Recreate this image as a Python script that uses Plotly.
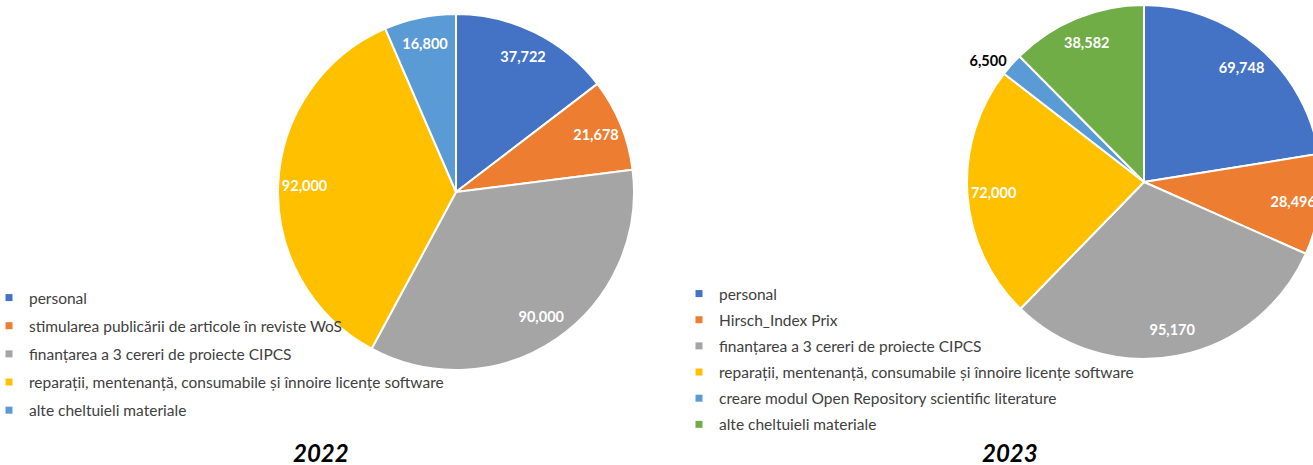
import plotly.graph_objects as go

# ---------------- data ----------------
labels_2022 = [
    "personal",
    "stimularea publicării de articole în reviste WoS",
    "finanțarea a 3 cereri de proiecte CIPCS",
    "reparații, mentenanță, consumabile și înnoire licențe software",
    "alte cheltuieli materiale",
]
values_2022 = [37722, 21678, 90000, 92000, 16800]
colors_2022 = ["#4472C4", "#ED7D31", "#A5A5A5", "#FFC000", "#5B9BD5"]
textpos_2022 = ["inside", "inside", "inside", "inside", "inside"]

labels_2023 = [
    "personal",
    "Hirsch_Index Prix",
    "finanțarea a 3 cereri de proiecte CIPCS",
    "reparații, mentenanță, consumabile și înnoire licențe software",
    "creare modul Open Repository scientific literature",
    "alte cheltuieli materiale",
]
values_2023 = [69748, 28496, 95170, 72000, 6500, 38582]
colors_2023 = ["#4472C4", "#ED7D31", "#A5A5A5", "#FFC000", "#5B9BD5", "#70AD47"]
textpos_2023 = ["inside", "inside", "inside", "inside", "outside", "inside"]

titles = ["2022", "2023"]

# ---------------- layout geometry ----------------
W, H = 1330, 465
FONT = "Lato"


def dom(cx, cy, r):
    return dict(x=[(cx - r) / W, (cx + r) / W], y=[(H - cy - r) / H, (H - cy + r) / H])


pies = [
    (labels_2022, values_2022, colors_2022, textpos_2022, dom(456, 192, 178), "legend"),
    (labels_2023, values_2023, colors_2023, textpos_2023, dom(1144, 182, 177), "legend2"),
]

fig = go.Figure()
for labels, values, colors, tpos, domain, leg in pies:
    # solid slices
    fig.add_trace(go.Pie(
        labels=labels, values=values, domain=domain, sort=False, direction="clockwise",
        rotation=0, marker=dict(colors=colors, line=dict(color="white", width=2)),
        textinfo="none", showlegend=False, hoverinfo="label+value",
    ))
    # transparent ring carrying the data labels (places them near the rim)
    fig.add_trace(go.Pie(
        labels=labels, values=values, domain=domain, sort=False, direction="clockwise",
        rotation=0, hole=0.7,
        marker=dict(colors=["rgba(0,0,0,0)"] * len(values), line=dict(width=0)),
        texttemplate="%{value:,}", textposition=tpos, insidetextorientation="horizontal",
        insidetextfont=dict(family=FONT, size=14.5, color="white", weight="bold"),
        outsidetextfont=dict(family=FONT, size=14.5, color="black", weight="bold"),
        showlegend=False, hoverinfo="skip",
    ))
    # legend entries with small square keys
    for lab, col in zip(labels, colors):
        fig.add_trace(go.Scatter(
            x=[None], y=[None], mode="markers", name=lab, legend=leg, legendgroup=leg + lab,
            marker=dict(symbol="square", size=7, color=col), hoverinfo="skip",
        ))

fig.update_layout(
    width=W, height=H, margin=dict(l=0, r=0, t=0, b=0, autoexpand=False),
    paper_bgcolor="white", plot_bgcolor="white",
    xaxis=dict(visible=False), yaxis=dict(visible=False),
    uniformtext=dict(minsize=14.5, mode="show"),
    legend=dict(x=-11 / W, y=(H - 281) / H, xanchor="left", yanchor="top",
                font=dict(family=FONT, size=15.5, color="#404040"),
                tracegroupgap=5, bgcolor="rgba(0,0,0,0)", itemwidth=30),
    legend2=dict(x=679 / W, y=(H - 277) / H, xanchor="left", yanchor="top",
                 font=dict(family=FONT, size=15.5, color="#404040"),
                 tracegroupgap=3, bgcolor="rgba(0,0,0,0)", itemwidth=30),
    annotations=[
        dict(text=f"<b><i>{titles[0]}</i></b>", x=321 / W, y=(H - 452) / H, xref="paper", yref="paper",
             xanchor="center", yanchor="middle",
             showarrow=False, font=dict(family=FONT, size=24, color="black")),
        dict(text=f"<b><i>{titles[1]}</i></b>", x=1010 / W, y=(H - 452) / H, xref="paper", yref="paper",
             xanchor="center", yanchor="middle",
             showarrow=False, font=dict(family=FONT, size=24, color="black")),
    ],
)

fig.write_html(
    "out.html",
    config={"displayModeBar": False},
    post_script="document.body.style.margin='0';document.body.style.overflow='hidden';",
)
